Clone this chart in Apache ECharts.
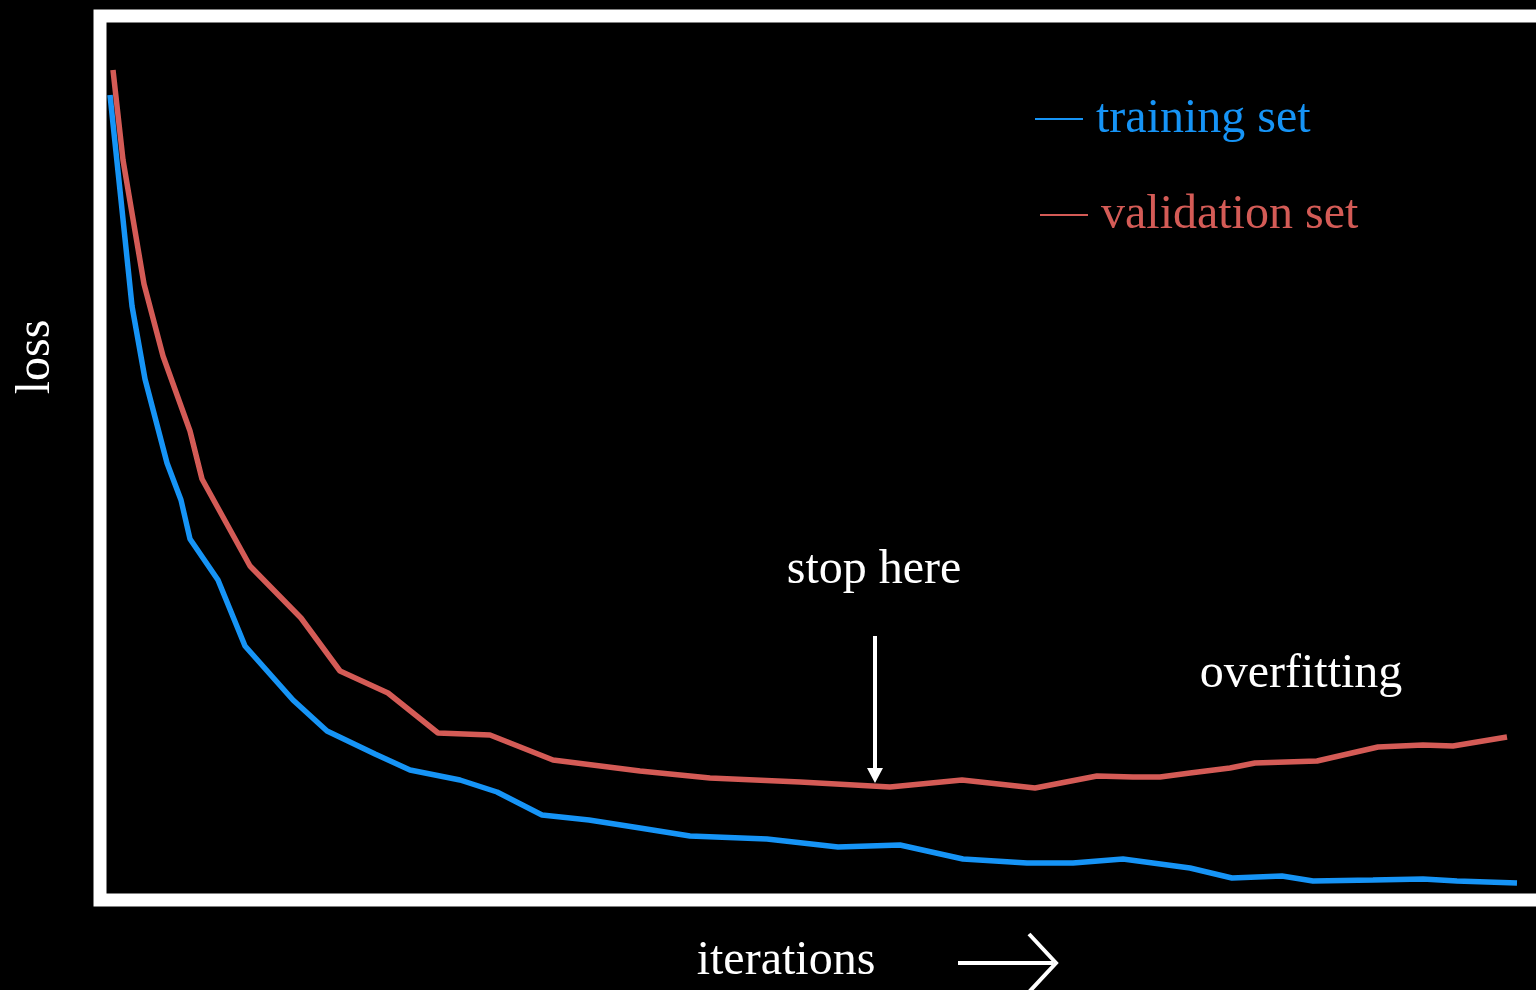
<!DOCTYPE html>
<html>
<head>
<meta charset="utf-8">
<title>loss vs iterations</title>
<script src="https://cdn.jsdelivr.net/npm/echarts@6/dist/echarts.min.js"></script>
<style>
  html, body { margin: 0; padding: 0; background: #000; }
  #chart { width: 1536px; height: 990px; }
</style>
</head>
<body>
<div id="chart"></div>
<script>
// series names
var seriesNames = ['training set', 'validation set']

// training set loss: [iteration, loss]
var trainingData = [
  [10, 805], [21, 700], [32, 594], [45, 521], [67, 437], [81, 400], [90, 361],
  [118, 320], [145, 254], [193, 200], [227, 169], [275, 146], [310, 130],
  [360, 120], [397, 108], [442, 85], [489, 80], [540, 72], [590, 64],
  [667, 61], [738, 53], [800, 55], [863, 41], [927, 37], [973, 37],
  [1023, 41], [1090, 32], [1132, 22], [1182, 24], [1213, 19], [1273, 20],
  [1323, 21], [1357, 19], [1417, 17]
]

// validation set loss: [iteration, loss]
var validationData = [
  [13, 830], [23, 740], [44, 616], [63, 544], [90, 469], [102, 421],
  [150, 334], [201, 282], [240, 229], [288, 207], [338, 167], [390, 165],
  [453, 140], [540, 129], [610, 122], [700, 118], [790, 113], [862, 120],
  [935, 112], [997, 124], [1033, 123], [1060, 123], [1090, 127], [1130, 132],
  [1155, 137], [1217, 139], [1278, 153], [1323, 155], [1353, 154], [1407, 163]
]

var colors = ['#1694f6', '#d45b56']
var serif = '"Liberation Serif", "DejaVu Serif", serif'

var chart = echarts.init(document.getElementById('chart'))

function legendFor(i, left, top) {
  return {
    data: [seriesNames[i]],
    left: left,
    top: top,
    padding: 0,
    orient: 'vertical',
    icon: 'rect',
    itemWidth: 48,
    itemHeight: 2,
    selectedMode: false,
    textStyle: {
      color: colors[i],
      fontFamily: serif,
      fontSize: 48,
      lineHeight: 48,
      padding: [0, 0, 0, 8]
    }
  }
}

chart.setOption({
  backgroundColor: '#000',
  animation: false,
  color: colors,
  legend: [
    legendFor(0, 1035, 95),
    legendFor(1, 1040, 191)
  ],
  // the frame runs off the right edge of the picture
  grid: {
    show: true,
    left: 100,
    top: 16,
    width: 1466,
    bottom: 90,
    outerBoundsMode: 'none',
    borderColor: '#fff',
    borderWidth: 13,
    backgroundColor: '#000'
  },
  xAxis: {
    type: 'value',
    min: 0,
    max: 1466,
    axisLine: { show: false },
    axisTick: { show: false },
    axisLabel: { show: false },
    splitLine: { show: false }
  },
  yAxis: {
    type: 'value',
    min: 0,
    max: 884,
    axisLine: { show: false },
    axisTick: { show: false },
    axisLabel: { show: false },
    splitLine: { show: false }
  },
  series: [
    {
      name: seriesNames[0],
      type: 'line',
      data: trainingData,
      showSymbol: false,
      symbol: 'none',
      lineStyle: { width: 5.5, color: colors[0] }
    },
    {
      name: seriesNames[1],
      type: 'line',
      data: validationData,
      showSymbol: false,
      symbol: 'none',
      lineStyle: { width: 5.5, color: colors[1] }
    }
  ],
  // annotations
  graphic: [
    {
      type: 'text',
      x: 36, y: 357, rotation: Math.PI / 2,
      style: { text: 'loss', font: '48px ' + serif, fill: '#fff', align: 'center', verticalAlign: 'middle' }
    },
    {
      type: 'text',
      x: 786, y: 961,
      style: { text: 'iterations', font: '48px ' + serif, fill: '#fff', align: 'center', verticalAlign: 'middle' }
    },
    {
      type: 'line',
      shape: { x1: 958, y1: 963, x2: 1053, y2: 963 },
      style: { stroke: '#fff', lineWidth: 4 }
    },
    {
      type: 'polyline',
      shape: { points: [[1029, 934], [1056, 963], [1029, 992]] },
      style: { stroke: '#fff', lineWidth: 4, fill: null }
    },
    {
      type: 'text',
      x: 874, y: 570,
      style: { text: 'stop here', font: '48px ' + serif, fill: '#fff', align: 'center', verticalAlign: 'middle' }
    },
    {
      type: 'line',
      shape: { x1: 875, y1: 636, x2: 875, y2: 770 },
      style: { stroke: '#fff', lineWidth: 4 }
    },
    {
      type: 'polygon',
      shape: { points: [[867, 768], [883, 768], [875, 783]] },
      style: { fill: '#fff' }
    },
    {
      type: 'text',
      x: 1301, y: 674,
      style: { text: 'overfitting', font: '48px ' + serif, fill: '#fff', align: 'center', verticalAlign: 'middle' }
    }
  ]
})
</script>
</body>
</html>
